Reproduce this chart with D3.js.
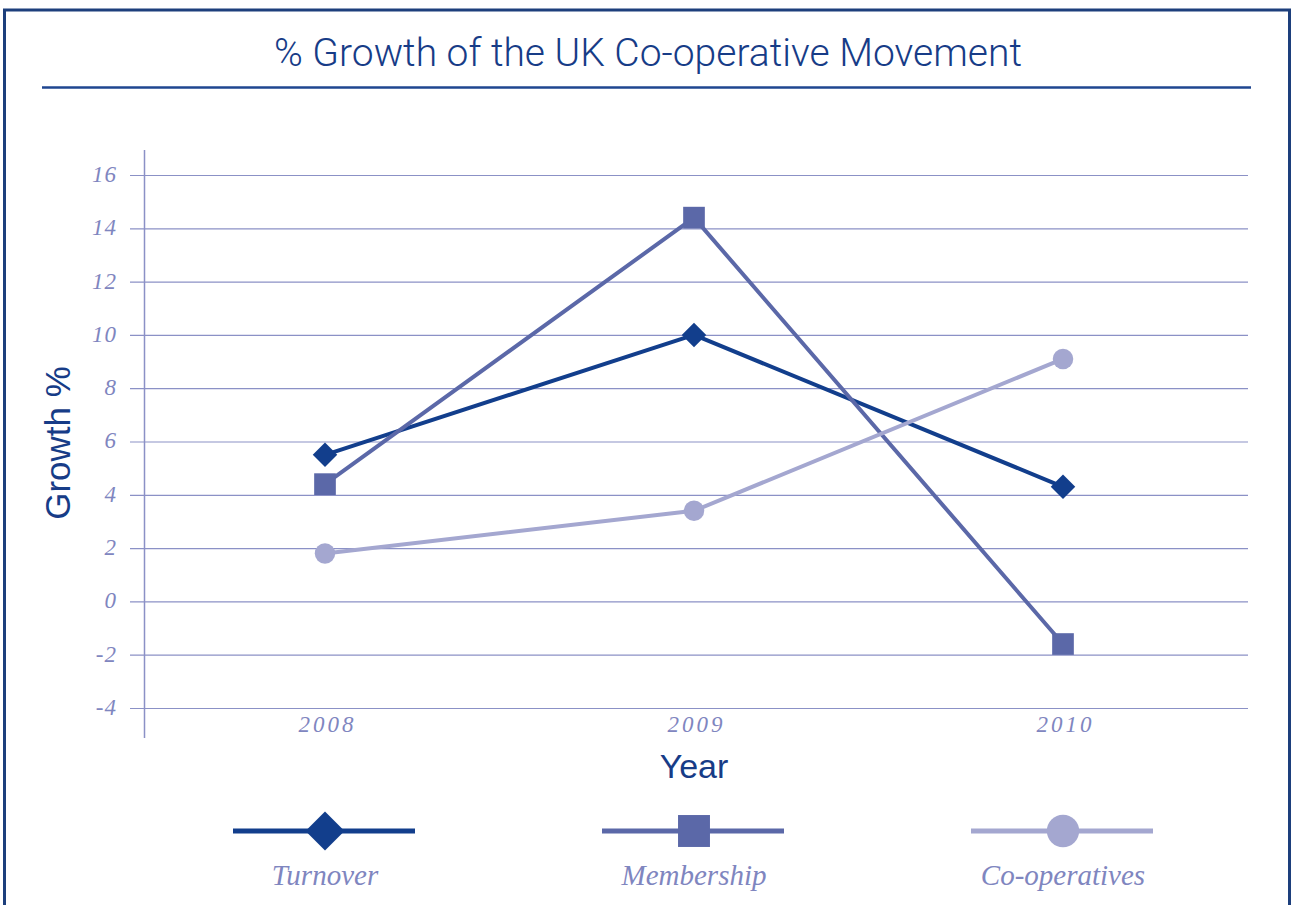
<!DOCTYPE html>
<html>
<head>
<meta charset="utf-8">
<script src="https://cdn.jsdelivr.net/npm/d3@7"></script>
<style>
  html, body { margin: 0; padding: 0; background: #fff; }
  svg { display: block; }
</style>
</head>
<body>
<svg id="chart" width="1293" height="905"></svg>
<script>
// Annual % growth figures for the UK co-operative movement
const years = ["2008", "2009", "2010"];
const turnover = [5.5, 10.0, 4.3];
const membership = [4.4, 14.4, -1.6];
const cooperatives = [1.8, 3.4, 9.1];
const yTicks = [-4, -2, 0, 2, 4, 6, 8, 10, 12, 14, 16];
const seriesNames = ["Turnover", "Membership", "Co-operatives"];

const colors = ["#123e8c", "#5b68a8", "#a4a7d0"];
const gridColor = "#8b91c6";
const tickColor = "#7f86bf";
const darkBlue = "#173c87";
const serif = "Georgia, 'Liberation Serif', 'DejaVu Serif', serif";

const svg = d3.select("#chart");

// Frame
svg.append("path")
  .attr("d", "M4.5,930 V10 H1289.5 V930")
  .attr("fill", "none").attr("stroke", "#1d3f7c").attr("stroke-width", 3);

// Title and rule
svg.append("text")
  .attr("x", 648).attr("y", 66)
  .attr("text-anchor", "middle")
  .attr("font-family", "'Liberation Sans Narrow', 'Roboto', sans-serif")
  .attr("font-weight", 300)
  .attr("font-size", 39)
  .attr("fill", darkBlue)
  .attr("textLength", 748).attr("lengthAdjust", "spacingAndGlyphs")
  .text("% Growth of the UK Co-operative Movement");
svg.append("line")
  .attr("x1", 42).attr("x2", 1251).attr("y1", 87.5).attr("y2", 87.5)
  .attr("stroke", "#1f4690").attr("stroke-width", 2.5);

// Scales
const x = d3.scalePoint().domain(years).range([325, 1063]);
const y = d3.scaleLinear().domain([-4, 16]).range([708, 175]);

// Gridlines
const gridAxis = d3.axisLeft(y).tickValues(yTicks).tickSize(-1118).tickFormat("");
const gridG = svg.append("g").attr("transform", "translate(130,0)").call(gridAxis);
gridG.select(".domain").remove();
gridG.selectAll(".tick line").attr("stroke", gridColor).attr("stroke-width", 1.2);

// Y tick labels (plain hyphen for negatives)
const yAxis = d3.axisLeft(y).tickValues(yTicks).tickSize(0).tickPadding(0)
  .tickFormat(d => String(d));
const yG = svg.append("g").attr("transform", "translate(117,0)").call(yAxis);
yG.select(".domain").remove();
yG.selectAll(".tick text")
  .attr("font-family", serif)
  .attr("font-style", "italic")
  .attr("font-size", 23)
  .attr("letter-spacing", 1)
  .attr("fill", tickColor)
  .attr("dy", "0.28em");

// Vertical axis line
svg.append("line")
  .attr("x1", 144.5).attr("x2", 144.5).attr("y1", 150).attr("y2", 738)
  .attr("stroke", gridColor).attr("stroke-width", 1.5);

// X tick labels
const xAxis = d3.axisBottom(x).tickSize(0).tickPadding(0);
const xG = svg.append("g").attr("transform", "translate(2,716)").call(xAxis);
xG.select(".domain").remove();
xG.selectAll(".tick text")
  .attr("font-family", serif)
  .attr("font-style", "italic")
  .attr("font-size", 23)
  .attr("letter-spacing", 3)
  .attr("fill", tickColor);

// Axis titles
svg.append("text")
  .attr("x", 694).attr("y", 778)
  .attr("text-anchor", "middle")
  .attr("font-family", "'Liberation Sans', Arial, sans-serif")
  .attr("font-size", 34)
  .attr("fill", darkBlue)
  .text("Year");
svg.append("text")
  .attr("transform", "translate(70,443) rotate(-90)")
  .attr("text-anchor", "middle")
  .attr("font-family", "'Liberation Sans', Arial, sans-serif")
  .attr("font-size", 35)
  .attr("fill", darkBlue)
  .text("Growth %");

// Series lines and markers
const seriesValues = [turnover, membership, cooperatives];
// diamond = square turned 45 degrees
const shapes = [d3.symbolSquare, d3.symbolSquare, d3.symbolCircle];
const rotations = [45, 0, 0];
const markerSizes = [300, 470, 330];
const legendSizes = [760, 1020, 820];

const line = d3.line().x((d, i) => x(years[i])).y(d => y(d));

seriesValues.forEach((vals, s) => {
  svg.append("path")
    .datum(vals)
    .attr("d", line)
    .attr("fill", "none")
    .attr("stroke", colors[s])
    .attr("stroke-width", 4)
    .attr("stroke-linejoin", "round");
});

seriesValues.forEach((vals, s) => {
  svg.selectAll(null)
    .data(vals)
    .join("path")
    .attr("transform", (d, i) => `translate(${x(years[i])},${y(d)}) rotate(${rotations[s]})`)
    .attr("d", d3.symbol(shapes[s], markerSizes[s])())
    .attr("fill", colors[s]);
});

// Legend
const legendX = [325, 694, 1063];
seriesNames.forEach((name, s) => {
  const g = svg.append("g").attr("transform", `translate(${legendX[s]},831)`);
  g.append("line")
    .attr("x1", -92).attr("x2", 90)
    .attr("stroke", colors[s]).attr("stroke-width", 5);
  g.append("path")
    .attr("d", d3.symbol(shapes[s], legendSizes[s])())
    .attr("transform", `rotate(${rotations[s]})`)
    .attr("fill", colors[s]);
  g.append("text")
    .attr("y", 54)
    .attr("text-anchor", "middle")
    .attr("font-family", serif)
    .attr("font-style", "italic")
    .attr("font-size", 29)
    .attr("fill", tickColor)
    .text(name);
});
</script>
</body>
</html>
